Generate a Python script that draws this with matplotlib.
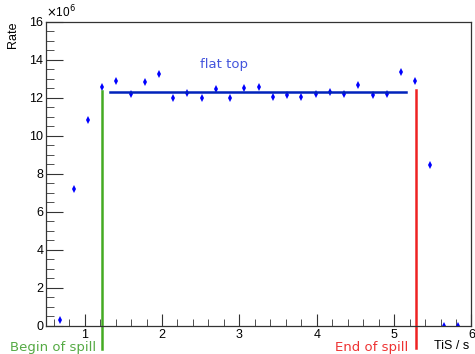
import matplotlib
matplotlib.use("Agg")
import matplotlib.pyplot as plt
from matplotlib.ticker import MultipleLocator

# time in spill (s) and rate (x10^6)
tis = [0.675, 0.861, 1.043, 1.225, 1.411, 1.594, 1.779, 1.961, 2.147, 2.329,
       2.515, 2.697, 2.883, 3.065, 3.251, 3.433, 3.619, 3.801, 3.987, 4.169,
       4.355, 4.536, 4.723, 4.905, 5.091, 5.273, 5.458, 5.640, 5.822]
rate = [0.33, 7.21, 10.83, 12.60, 12.91, 12.21, 12.82, 13.28, 11.98, 12.26,
        11.98, 12.47, 11.98, 12.54, 12.60, 12.03, 12.17, 12.03, 12.21, 12.30,
        12.21, 12.67, 12.16, 12.23, 13.35, 12.89, 8.46, 0.0, 0.0]

flat_top = 12.32
flat_start, flat_end = 1.325, 5.16
spill_begin, spill_end = 1.225, 5.28

plt.rcParams['font.family'] = ['Liberation Sans', 'DejaVu Sans']

fig = plt.figure(figsize=(4.75, 3.54), dpi=100)
ax = fig.add_axes([0.0968, 0.0791, 0.8958, 0.8588])

ax.plot(tis, rate, linestyle='none', marker='d', markersize=3.8,
        color='#0000ff', markeredgewidth=0)
ax.plot([flat_start, flat_end], [flat_top, flat_top], color='#0022bb', lw=1.8)
ax.plot([spill_begin, spill_begin], [12.37, -1.2], color='#44aa22', lw=1.8,
        clip_on=False)
ax.plot([spill_end, spill_end], [12.40, -1.15], color='#ee2222', lw=1.8,
        clip_on=False)

ax.set_xlim(0.5, 6)
ax.set_ylim(0, 16)
ax.xaxis.set_major_locator(MultipleLocator(1))
ax.xaxis.set_minor_locator(MultipleLocator(0.2))
ax.yaxis.set_major_locator(MultipleLocator(2))
ax.yaxis.set_minor_locator(MultipleLocator(0.5))
ax.tick_params(which='both', direction='in', top=False, right=False,
               labelsize=9, color='#333333', pad=2)
ax.tick_params(axis='x', which='major', length=9)
ax.tick_params(axis='x', which='minor', length=5)
ax.tick_params(axis='y', which='major', length=12)
ax.tick_params(axis='y', which='minor', length=6)
for s in ax.spines.values():
    s.set_color('#333333')
    s.set_linewidth(0.9)

ax.text(2.805, 13.74, 'flat top', color='#4455dd', fontsize=9.5,
        family='DejaVu Sans', ha='center', va='center')
fig.text(10 / 475, 1 - 348 / 354, 'Begin of spill', color='#55aa44',
         fontsize=9.5, family='DejaVu Sans', ha='left', va='center')
fig.text(408 / 475, 1 - 348 / 354, 'End of spill', color='#ee3333',
         fontsize=9.5, family='DejaVu Sans', ha='right', va='center')
fig.text(469 / 475, 1 - 346 / 354, 'TiS / s', fontsize=9,
         ha='right', va='center')
fig.text(13 / 475, 1 - 22 / 354, 'Rate', fontsize=9, rotation=90,
         ha='center', va='top')
fig.text(46 / 475, 1 - 20 / 354, r'$\times$10$^{6}$', fontsize=8.5,
         ha='left', va='bottom')

fig.savefig('out.png', dpi=100)
